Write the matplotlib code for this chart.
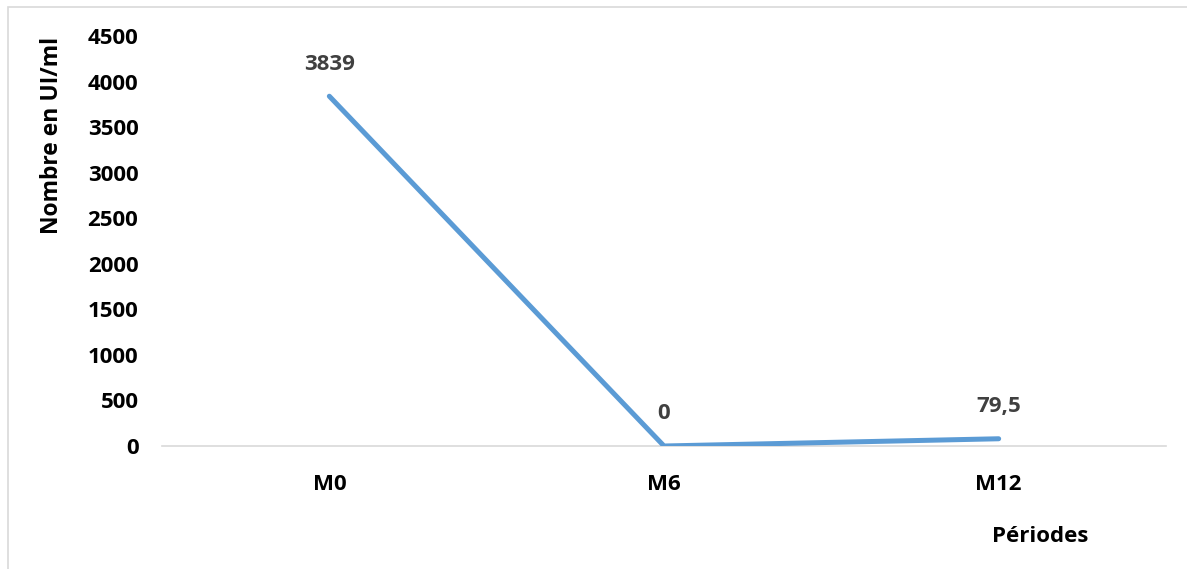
import matplotlib.pyplot as plt
from matplotlib.patches import Rectangle

periodes = ["M0", "M6", "M12"]
valeurs = [3839, 0, 79.5]
etiquettes = ["3839", "0", "79,5"]
yticks = [0, 500, 1000, 1500, 2000, 2500, 3000, 3500, 4000, 4500]

plt.rcParams['font.family'] = ['Open Sans', 'DejaVu Sans']

W, H = 1187, 569
fig = plt.figure(figsize=(W / 100, H / 100), dpi=100)

# cadre gris du graphique (coupé à droite et en bas)
fig.patches.append(Rectangle((8 / W, -0.1), 2, (H - 7) / H + 0.1,
                             transform=fig.transFigure, fill=False,
                             edgecolor='#D9D9D9', linewidth=1.2))

ax = fig.add_axes([162 / W, (H - 446) / H, (1166 - 162) / W, (446 - 36) / H])
x = range(len(periodes))
ax.plot(x, valeurs, color='#5B9BD5', linewidth=3.6,
        solid_capstyle='round', solid_joinstyle='miter')

for xi, v, t in zip(x, valeurs, etiquettes):
    ax.annotate(t, (xi, v), xytext=(0, 15.5), textcoords='offset points',
                ha='center', va='bottom', fontsize=16, fontweight='bold',
                color='#404040')

ax.set_xlim(-0.5, 2.5)
ax.set_ylim(0, 4500)
ax.set_yticks(yticks)
ax.set_yticklabels([str(t) for t in yticks], fontsize=16, fontweight='bold')
ax.set_xticks(list(x))
ax.set_xticklabels(periodes, fontsize=16, fontweight='bold')
ax.tick_params(axis='y', length=0, pad=17)
ax.tick_params(axis='x', length=0, pad=20)

for s in ['top', 'right', 'left']:
    ax.spines[s].set_visible(False)
ax.spines['bottom'].set_color('#D9D9D9')
ax.spines['bottom'].set_linewidth(1.2)
ax.spines['bottom'].set_zorder(1)

fig.text(52 / W, 1 - 135 / H, "Nombre en UI/ml", rotation=90, ha='center',
         va='center', fontsize=16.5, fontweight='bold')
fig.text(1040 / W, 1 - 536 / H, "Périodes", ha='center', va='center',
         fontsize=16, fontweight='bold')

fig.savefig('out.png', dpi=100, facecolor='white')
